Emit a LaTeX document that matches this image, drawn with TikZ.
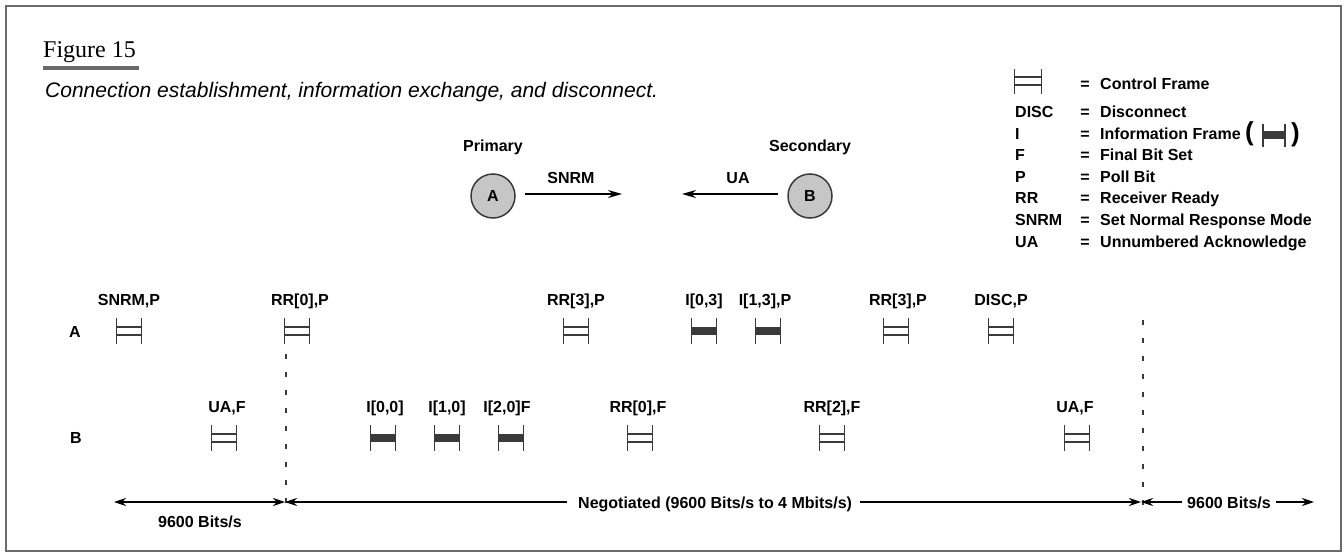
\documentclass[tikz,border=0pt]{standalone}
\usepackage{fontspec}
\setmainfont{Liberation Serif}
\newfontfamily\sansfam{Liberation Sans}
\usepackage{tkz-graph}
\usetikzlibrary{arrows.meta,positioning}

\definecolor{framegray}{HTML}{3A3A3A}
\definecolor{stationgray}{HTML}{C6C6C6}
\definecolor{bordergray}{HTML}{6A6A6A}
\newcommand{\boldlbl}{\sansfam\bfseries\fontsize{16}{18}\selectfont}

\tikzset{
  frm/.style={minimum width=25pt,minimum height=26pt,inner sep=0pt,outer sep=0pt},
  frmline/.style={draw=framegray,line width=1.4pt},
  lbl/.style={font=\boldlbl,inner sep=0pt,anchor=base},
  msg/.style={line width=1.6pt,-{Stealth[length=14pt,width=8pt]}},
  rate/.style={line width=1.6pt},
  ratetip/.tip={Stealth[length=12pt,width=8pt]},
  sync/.style={draw=framegray,line width=1.3pt,dash pattern=on 5pt off 13pt},
}

% control frame: [opts] name, x, y
\newcommand{\CtrlFrame}[4][]{%
  \node[frm,#1] (#2) at (#3,#4) {};
  \draw[frmline] (#2.north west) -- (#2.south west);
  \draw[frmline] (#2.north east) -- (#2.south east);
  \draw[frmline,line width=1.1pt] ([yshift=4pt]#2.west) -- ([yshift=4pt]#2.east);
  \draw[frmline,line width=1.1pt] ([yshift=-4pt]#2.west) -- ([yshift=-4pt]#2.east);
}
% information frame: [opts] name, x, y
\newcommand{\InfoFrame}[4][]{%
  \node[frm,#1] (#2) at (#3,#4) {};
  \fill[framegray] ([yshift=4pt]#2.west) rectangle ([yshift=-4pt]#2.east);
  \draw[frmline] (#2.north west) -- (#2.south west);
  \draw[frmline] (#2.north east) -- (#2.south east);
}

\begin{document}
\begin{tikzpicture}[x=1pt,y=-1pt]
\useasboundingbox (0,0) rectangle (1344,554);
\draw[draw=bordergray,line width=1.5pt] (6,6) rectangle (1341,551);

% title
\node[anchor=base west,inner sep=0pt,font=\fontsize{24}{26}\selectfont] (fig) at (43,57) {Figure 15};
\fill[bordergray] (43,66) rectangle (139,70);
\node[anchor=base west,inner sep=0pt,font=\sansfam\itshape\fontsize{21}{24}\selectfont] (cap) at (45,97)
  {Connection establishment, information exchange, and disconnect.};

% stations
\SetVertexNormal[Shape=circle,FillColor=stationgray,LineColor=framegray,LineWidth=1.5pt,MinSize=44pt]
\tikzset{VertexStyle/.append style={font=\boldlbl,text=black}}
\Vertex[x=493,y=196]{A}
\Vertex[x=810,y=196]{B}
\node[lbl] (prim) at (493,151) {Primary};
\node[lbl] (sec) at (810,151) {Secondary};
\coordinate (snrmEnd) at (622,194);
\coordinate (uaEnd) at (682,194);
\draw[msg] ([xshift=10pt]A.east |- snrmEnd) -- (snrmEnd);
\draw[msg] ([xshift=-10pt]B.west |- uaEnd) -- (uaEnd);
\node[lbl] (snrm) at (571,183) {SNRM};
\node[lbl] (ua) at (738,183) {UA};

% legend
\CtrlFrame[minimum width=27pt,minimum height=25pt]{key0}{1028}{81}
\node[lbl] (eq0) at (1085,89) {=};
\node[lbl,anchor=base west] (desc0) at (1100,89) {Control Frame};
\foreach \k/\d [count=\i] in {DISC/Disconnect,I/Information Frame,F/Final Bit Set,P/Poll Bit,
    RR/Receiver Ready,SNRM/Set Normal Response Mode,UA/Unnumbered Acknowledge}{
  \pgfmathsetmacro{\yy}{117.5+21.6*(\i-1)}
  \node[lbl,anchor=base west] (key\i) at (1015,\yy) {\k};
  \node[lbl] (eq\i) at (1085,\yy) {=};
  \node[lbl,anchor=base west] (desc\i) at (1100,\yy) {\d};
}
\node[inner sep=0pt,font=\sansfam\bfseries\fontsize{26}{26}\selectfont,right=4pt of desc2] (lpar) {(};
\InfoFrame[minimum width=22pt,minimum height=23pt]{key8}{1274}{135}
\node[inner sep=0pt,font=\sansfam\bfseries\fontsize{26}{26}\selectfont,right=6pt of key8] (rpar) {)};

% rows
\node[lbl,anchor=center] (rowA) at (75,332) {A};
\node[lbl,anchor=center] (rowB) at (76,438) {B};

% frames sent by A
\CtrlFrame{a1}{129}{331}
\CtrlFrame{a2}{297}{331}
\CtrlFrame{a3}{576}{331}
\InfoFrame{a4}{704}{331}
\InfoFrame{a5}{768}{331}
\CtrlFrame{a6}{896}{331}
\CtrlFrame{a7}{1001}{331}
\node[lbl] at ([yshift=13pt]a1.north) {SNRM,P};
\node[lbl] at ([xshift=3pt,yshift=13pt]a2.north) {RR[0],P};
\node[lbl] at ([yshift=13pt]a3.north) {RR[3],P};
\node[lbl] at ([yshift=13pt]a4.north) {I[0,3]};
\node[lbl] at ([xshift=-3pt,yshift=13pt]a5.north) {I[1,3],P};
\node[lbl] at ([xshift=2pt,yshift=13pt]a6.north) {RR[3],P};
\node[lbl] at ([yshift=13pt]a7.north) {DISC,P};

% frames sent by B
\CtrlFrame{b1}{224}{438}
\InfoFrame{b2}{383}{438}
\InfoFrame{b3}{447}{438}
\InfoFrame{b4}{511}{438}
\CtrlFrame{b5}{640}{438}
\CtrlFrame{b6}{832}{438}
\CtrlFrame{b7}{1077}{438}
\node[lbl] at ([xshift=3pt,yshift=13pt]b1.north) {UA,F};
\node[lbl] at ([xshift=2pt,yshift=13pt]b2.north) {I[0,0]};
\node[lbl] at ([yshift=13pt]b3.north) {I[1,0]};
\node[lbl] at ([xshift=-4pt,yshift=13pt]b4.north) {I[2,0]F};
\node[lbl] at ([xshift=-2pt,yshift=13pt]b5.north) {RR[0],F};
\node[lbl] at ([yshift=13pt]b6.north) {RR[2],F};
\node[lbl] at ([xshift=-2pt,yshift=13pt]b7.north) {UA,F};

% speed changes
\coordinate (sy1) at (286,354);
\coordinate (sy1b) at (286,510);
\coordinate (sy2) at (1143,320);
\coordinate (sy2b) at (1143,510);
\draw[sync] (sy1) -- (sy1b);
\draw[sync] (sy2) -- (sy2b);

\coordinate (lowL) at (114,502);
\coordinate (cut1) at (285,502);
\coordinate (cut2) at (1141,502);
\coordinate (lowR) at (1314,502);
\draw[rate,ratetip-ratetip] (lowL) -- (cut1);
\node[lbl] (r1) at (200,527) {9600 Bits/s};
\node[lbl,anchor=base west] (neg) at (578,508) {Negotiated (9600 Bits/s to 4 Mbits/s)};
\draw[rate,ratetip-,shorten >=11pt] (cut1) -- (neg.west |- cut1);
\draw[rate,-ratetip,shorten <=8pt] (neg.east |- cut1) -- (cut2);
\node[lbl,anchor=base west] (r2) at (1187,508) {9600 Bits/s};
\draw[rate,ratetip-,shorten >=5pt] (cut2) -- (r2.west |- cut2);
\draw[rate,-ratetip,shorten <=5pt] (r2.east |- cut2) -- (lowR);
\end{tikzpicture}
\end{document}
